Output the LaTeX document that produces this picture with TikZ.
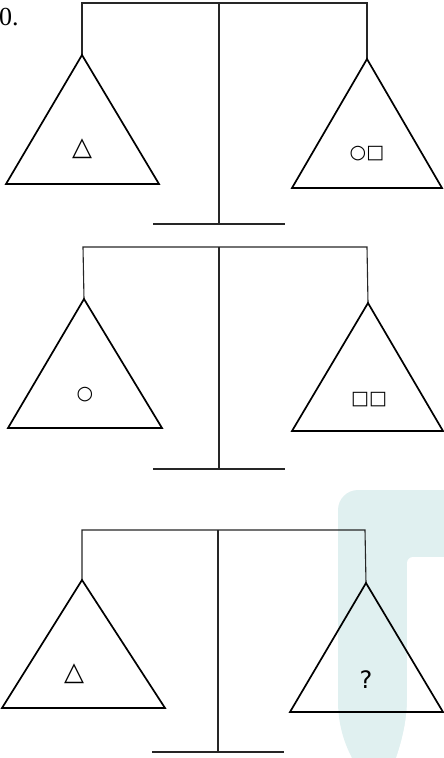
\documentclass[tikz,border=0pt]{standalone}
\usepackage{fontspec}
\setmainfont{Liberation Serif}
\newfontfamily\symfont{DejaVu Sans}
\usepackage{xcolor}
\definecolor{markteal}{RGB}{224,240,240}

\begin{document}
\begin{tikzpicture}[
    x=1pt, y=-1pt,
    beam/.style={draw=black!85, line width=1.1pt},
    pan/.style={draw=black, line width=1.7pt, line join=miter},
    weight/.style={font=\symfont\fontsize{19}{21}\selectfont, inner sep=0pt},
    bigweight/.style={font=\symfont\fontsize{26}{28}\selectfont, inner sep=0pt}
]
\useasboundingbox (0,0) rectangle (444,758);

% watermark
\fill[markteal] (352,758) .. controls (340,735) and (338,715) .. (338,700)
    -- (338,510) arc[start angle=180, end angle=270, radius=20] -- (444,490) -- (444,758) -- cycle;
\fill[white] (396,758) .. controls (404,735) and (407,715) .. (407,700)
    -- (407,563) arc[start angle=180, end angle=270, radius=6] -- (444,557) -- (444,758) -- cycle;

\node[font=\fontsize{26}{28}\selectfont, anchor=base west, inner sep=0pt] (num) at (-1,25) {0.};

% first scale
\coordinate (top1) at (219,3);
\coordinate (hookL1) at (82,3);
\coordinate (hookR1) at (367,3);
\coordinate (foot1) at (219,224);
\coordinate (standL1) at (153,224);
\coordinate (standR1) at (285,224);
\coordinate (apexL1) at (82,55);
\coordinate (apexR1) at (367,59);
\draw[beam] (apexL1) -- (hookL1) -- (hookR1) -- (apexR1);
\draw[beam] (top1) -- (foot1);
\draw[beam] (standL1) -- (standR1);
\draw[pan] (apexL1) -- (6,184) -- (159,184) -- cycle;
\draw[pan] (apexR1) -- (292,188) -- (442,188) -- cycle;
\node[bigweight] (wL1) at (82,149) {△};
\node[weight] (wR1) at (367,154) {{\bfseries ○}□};

% second scale
\coordinate (top2) at (219,247);
\coordinate (hookL2) at (83,247);
\coordinate (hookR2) at (367,247);
\coordinate (foot2) at (219,469);
\coordinate (standL2) at (153,469);
\coordinate (standR2) at (285,469);
\coordinate (apexL2) at (84,299);
\coordinate (apexR2) at (368,303);
\draw[beam] (apexL2) -- (hookL2) -- (hookR2) -- (apexR2);
\draw[beam] (top2) -- (foot2);
\draw[beam] (standL2) -- (standR2);
\draw[pan] (apexL2) -- (8,428) -- (162,428) -- cycle;
\draw[pan] (apexR2) -- (292,431) -- (443,431) -- cycle;
\node[weight] (wL2) at (85,395) {\bfseries ○};
\node[weight] (wR2) at (369,400) {□□};

% third scale
\coordinate (top3) at (218,530);
\coordinate (hookL3) at (82,530);
\coordinate (hookR3) at (365,530);
\coordinate (foot3) at (218,752);
\coordinate (standL3) at (152,752);
\coordinate (standR3) at (284,752);
\coordinate (apexL3) at (82,580);
\coordinate (apexR3) at (366,583);
\draw[beam] (apexL3) -- (hookL3) -- (hookR3) -- (apexR3);
\draw[beam] (top3) -- (foot3);
\draw[beam] (standL3) -- (standR3);
\draw[pan] (apexL3) -- (2,708) -- (165,708) -- cycle;
\draw[pan] (apexR3) -- (290,712) -- (443,712) -- cycle;
\node[bigweight] (wL3) at (74,674) {△};
\node[font=\symfont\fontsize{24}{26}\selectfont, inner sep=0pt] (wR3) at (366,680) {?};
\end{tikzpicture}
\end{document}
